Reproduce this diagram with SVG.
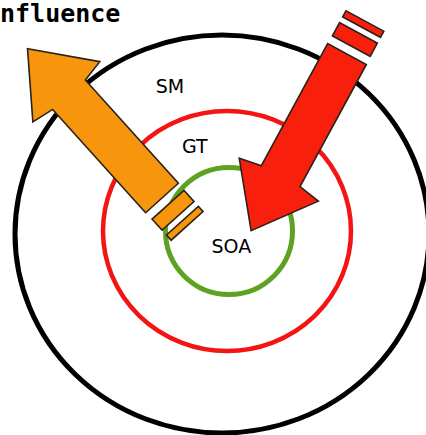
<svg xmlns="http://www.w3.org/2000/svg" xmlns:xlink="http://www.w3.org/1999/xlink" width="426" height="435" viewBox="0 0 426 435">
<style>
.ring{fill:none}
.lbl{font-family:"DejaVu Sans","Liberation Sans",sans-serif;font-size:19px;fill:#000}
.title{font-family:"DejaVu Sans Mono","Liberation Mono",monospace;font-weight:bold;font-size:25px;fill:#000}
.arr{stroke:#2b2218;stroke-width:1.6;stroke-linejoin:miter}
</style>
<defs>
<g id="arrow-shape" class="arr">
<polygon points="0,-22 139,-22 143,-45 201,0 143,45 139,22 0,22"/>
<rect x="-24" y="-21.5" width="15" height="43"/>
<rect x="-37.5" y="-21.5" width="7" height="43"/>
</g>
</defs>
<rect width="426" height="435" fill="#fff"/>
<text class="title" x="0" y="22">nfluence</text>
<g id="node-sm">
<ellipse class="ring" cx="222" cy="234" rx="207" ry="199" stroke="#000" stroke-width="5"/>
<text class="lbl" x="155.7" y="93">SM</text>
</g>
<g id="node-gt">
<ellipse class="ring" cx="227" cy="231" rx="124" ry="120" stroke="#f41414" stroke-width="4.5"/>
<text class="lbl" x="182" y="153">GT</text>
</g>
<g id="node-soa">
<circle class="ring" cx="229" cy="231" r="63.5" stroke="#5ea221" stroke-width="5"/>
<text class="lbl" x="211.5" y="253">SOA</text>
</g>
<g id="connectors">
<use id="arrow-out" xlink:href="#arrow-shape" fill="#f7960c" transform="translate(162,198) rotate(228)"/>
<use id="arrow-in" xlink:href="#arrow-shape" fill="#f8200c" transform="translate(347,54) rotate(118.5)"/>
</g>
</svg>
